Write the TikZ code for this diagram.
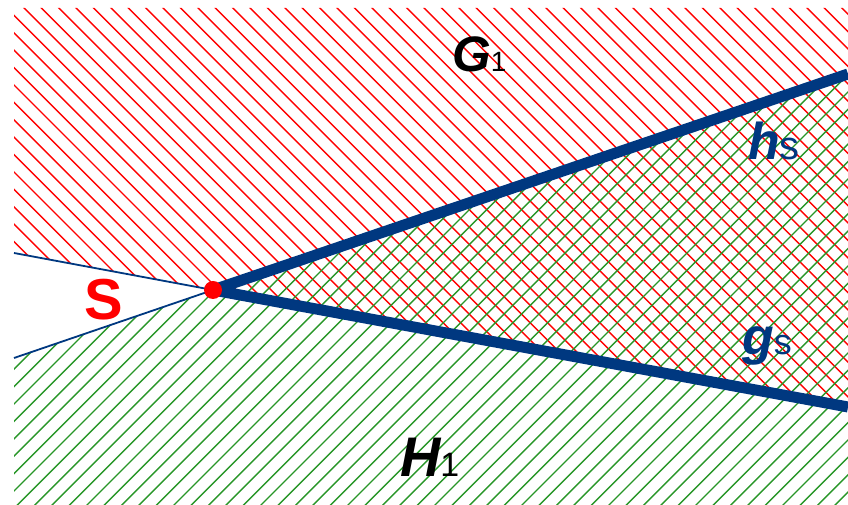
\documentclass[tikz,border=0pt]{standalone}
\usepackage{fontspec}
\setmainfont{Liberation Sans}
\definecolor{bnavy}{RGB}{0,56,128}
\definecolor{hgreen}{RGB}{40,150,40}
\newcommand\biglab[4]{{\fontsize{#1}{#1}\selectfont\bfseries\itshape #3}{\fontsize{#2}{#2}\selectfont #4}}
\begin{document}
\begin{tikzpicture}[x=1bp,y=1bp,
 redhatch/.style={red,line width=1.4bp},
 greenhatch/.style={hgreen,line width=1.4bp},
 bound/.style={bnavy,line width=11bp},
 ext/.style={bnavy,line width=1.8bp},
 lab/.style={anchor=base west,inner sep=0pt}]
\useasboundingbox (0,0) rectangle (848,505);
\coordinate (S) at (213,215);
\coordinate (hR) at (848,431);\coordinate (hL) at (14,147);
\coordinate (gR) at (848,98);\coordinate (gL) at (14,252);
% G1, above g
\begin{scope}
\clip (gL) -- (S) -- (gR) -- (848,497) -- (14,497) -- cycle;
\foreach \k in {0,...,95}{\draw[redhatch] ({521+17.4*(\k-30)-600},600) -- ++(800,-800);}
\end{scope}
% H1, below h
\begin{scope}
\clip (hL) -- (S) -- (hR) -- (848,0) -- (14,0) -- cycle;
\foreach \k in {-30,...,50}{\draw[greenhatch] ({17.4*\k-200},-200) -- ++(800,800);}
\end{scope}
\draw[ext] (S) -- (gL) (S) -- (hL);
\draw[bound] (S) -- (hR) (S) -- (gR);
\fill[red] (S) circle (9);
\node[lab] (G1) at (452,433) {\biglab{50}{28}{G}{1}};
\node[lab,text=bnavy] (hs) at (748,345) {\biglab{52}{40}{h}{s}};
\node[lab,text=bnavy] (gs) at (742,150) {\biglab{52}{36}{g}{s}};
\node[lab] (H1) at (400,28) {\biglab{56}{34}{H}{1}};
\node[lab,text=red,font=\fontsize{58}{58}\selectfont\bfseries] (Slab) at (84,185) {S};
\end{tikzpicture}
\end{document}
